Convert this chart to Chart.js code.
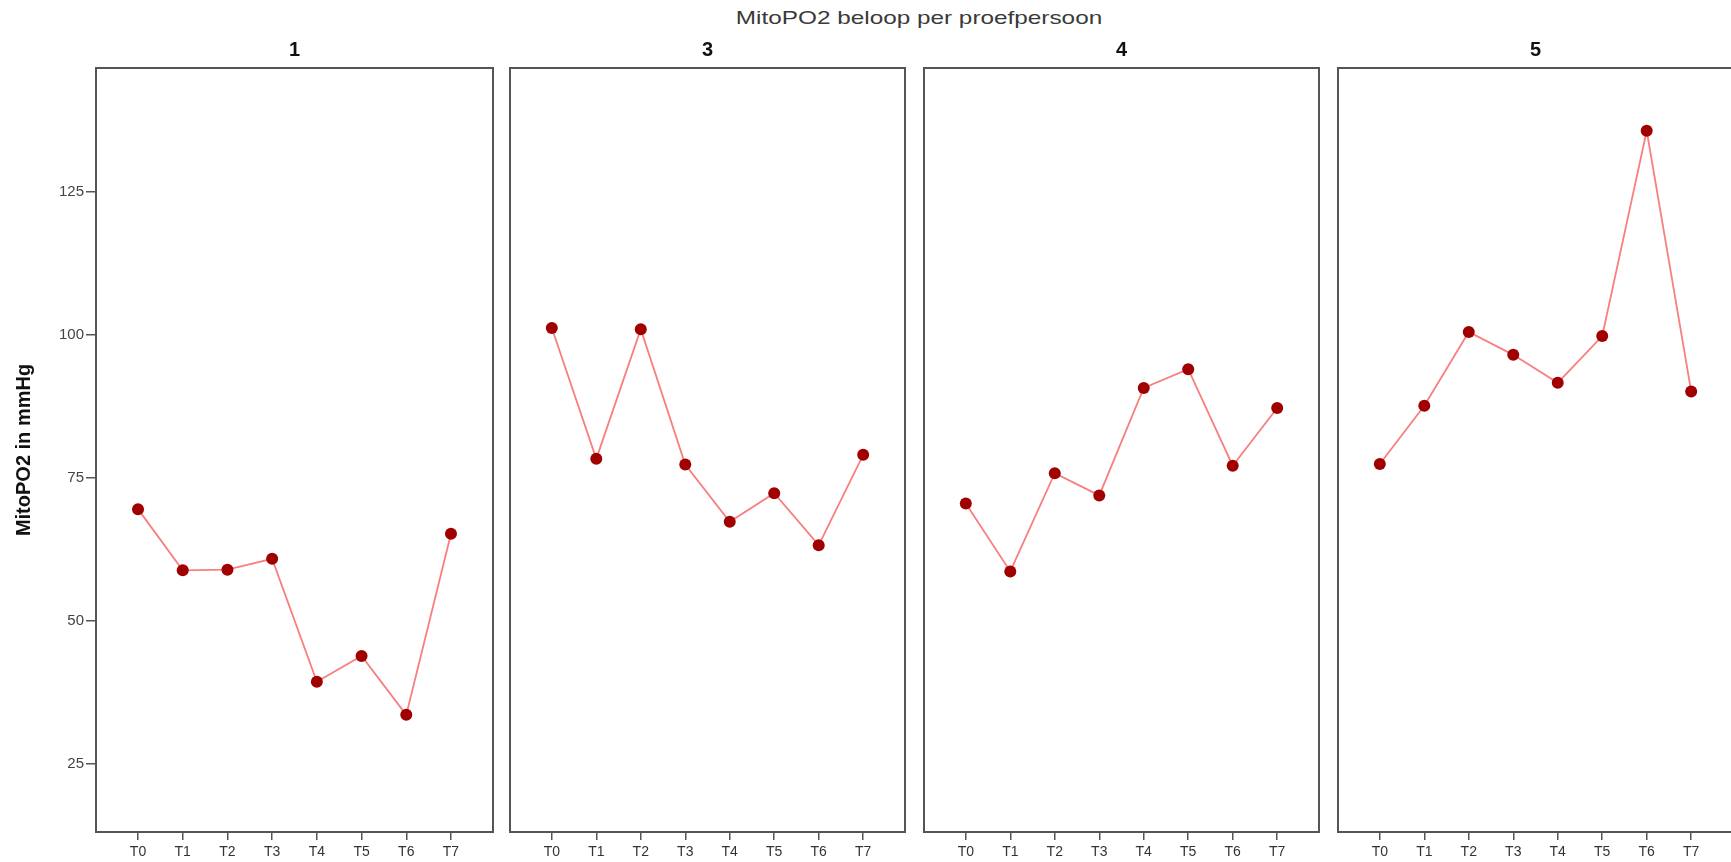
<!DOCTYPE html>
<html>
<head>
<meta charset="utf-8">
<title>MitoPO2 beloop per proefpersoon</title>
<script src="https://cdn.jsdelivr.net/npm/chart.js@4/dist/chart.umd.min.js"></script>
<style>
  body {
    margin: 0;
    width: 1731px;
    height: 862px;
    overflow: hidden;
    background: #fff;
    font-family: "Liberation Sans", Arial, sans-serif;
  }
  .panel {
    position: absolute;
    top: 0;
  }
  #mainTitle {
    position: absolute;
    top: 8px;
    left: 919px;
    font-size: 19px;
    line-height: 19px;
    color: #3a3a3a;
    white-space: nowrap;
    transform: translateX(-50%) scaleX(1.28);
  }
</style>
</head>
<body>
<div id="mainTitle">MitoPO2 beloop per proefpersoon</div>
<canvas id="panel0" class="panel"></canvas>
<canvas id="panel1" class="panel"></canvas>
<canvas id="panel2" class="panel"></canvas>
<canvas id="panel3" class="panel"></canvas>
<script>
  // data (MitoPO2 in mmHg)
  const timepoints = ["T0", "T1", "T2", "T3", "T4", "T5", "T6", "T7"];
  const subjects = ["1", "3", "4", "5"];
  const subject1 = [69.5, 58.8, 58.9, 60.8, 39.3, 43.8, 33.5, 65.2];
  const subject3 = [101.2, 78.3, 101.0, 77.3, 67.3, 72.3, 63.2, 79.0];
  const subject4 = [70.5, 58.6, 75.8, 71.9, 90.7, 94.0, 77.1, 87.2];
  const subject5 = [77.4, 87.6, 100.5, 96.5, 91.6, 99.8, 135.7, 90.1];
  const yTickValues = [25, 50, 75, 100, 125];

  const seriesList = [subject1, subject3, subject4, subject5];

  // panel geometry (px)
  const panelLefts = [96, 508, 922, 1336];
  const panelWidth = 399;
  const chartBottom = 832;
  const pageHeight = 862;
  const pad = 4;

  const framePlugin = {
    id: "frame",
    beforeDatasetsDraw(chart) {
      const { ctx, chartArea: a } = chart;
      ctx.save();
      ctx.strokeStyle = "#555";
      ctx.lineWidth = 2;
      ctx.strokeRect(a.left, a.top, a.right - a.left, a.bottom - a.top);
      ctx.restore();
    },
  };

  seriesList.forEach((values, i) => {
    const canvas = document.getElementById("panel" + i);
    const first = i === 0;
    const left = first ? 0 : panelLefts[i] - pad;
    const width = first ? panelLefts[0] + panelWidth + pad : panelWidth + 2 * pad;
    canvas.width = width;
    canvas.height = pageHeight;
    canvas.style.left = left + "px";

    new Chart(canvas.getContext("2d"), {
      type: "line",
      data: {
        datasets: [
          {
            data: values.map((v, k) => ({ x: k, y: v })),
            borderColor: "#f77f7f",
            borderWidth: 1.8,
            tension: 0,
            pointRadius: 6,
            pointBorderWidth: 0,
            pointBackgroundColor: "#a00000",
          },
        ],
      },
      options: {
        responsive: false,
        animation: false,
        layout: {
          padding: { left: first ? 0 : pad, right: pad, top: 0, bottom: 0 },
        },
        plugins: {
          legend: { display: false },
          tooltip: { enabled: false },
          title: {
            display: true,
            text: subjects[i],
            fullSize: false,
            color: "#111",
            font: { family: "Liberation Sans", size: 20, weight: "bold" },
            padding: { top: 38, bottom: 6 },
          },
        },
        scales: {
          x: {
            type: "linear",
            min: -0.94,
            max: 7.94,
            afterBuildTicks: (scale) => {
              scale.ticks = timepoints.map((t, k) => ({ value: k }));
            },
            afterFit: (scale) => {
              scale.height = pageHeight - chartBottom;
            },
            border: { display: false },
            grid: {
              drawOnChartArea: false,
              color: "#555",
              lineWidth: 1.5,
              tickLength: 8,
            },
            ticks: {
              callback: (value) => timepoints[value],
              color: "#333",
              font: { family: "Liberation Sans", size: 14 },
              padding: 4,
              maxRotation: 0,
              autoSkip: false,
            },
          },
          y: {
            display: first,
            min: 13,
            max: 146.7,
            afterBuildTicks: (scale) => {
              scale.ticks = yTickValues.map((v) => ({ value: v }));
            },
            afterFit: (scale) => {
              scale.width = first ? panelLefts[0] : 0;
            },
            border: { display: false },
            grid: {
              drawOnChartArea: false,
              color: "#555",
              lineWidth: 1.5,
              tickLength: 10,
            },
            ticks: {
              color: "#444",
              font: { family: "Liberation Sans", size: 15 },
              padding: 2,
            },
            title: {
              display: true,
              text: "MitoPO2 in mmHg",
              color: "#111",
              font: { family: "Liberation Sans", size: 20, weight: "bold" },
              padding: { top: 12, bottom: 0 },
            },
          },
        },
      },
      plugins: [framePlugin],
    });
  });
</script>
</body>
</html>
